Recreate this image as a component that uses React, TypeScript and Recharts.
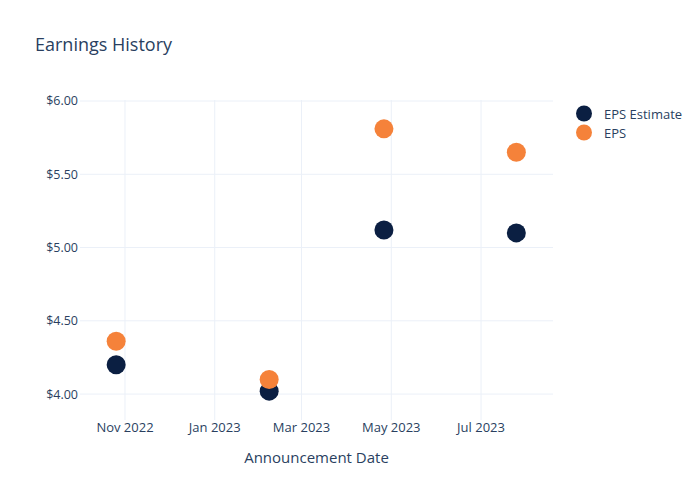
import React from 'react';
import { ScatterChart, Scatter, XAxis, YAxis, ReferenceLine, Legend } from 'recharts';

const dates = ['2022-10-26', '2023-02-07', '2023-04-26', '2023-07-25'];
const epsEstimate = [4.2, 4.02, 5.12, 5.1];
const epsActual = [4.36, 4.1, 5.81, 5.65];
const xTickDates = ['2022-11-01', '2023-01-01', '2023-03-01', '2023-05-01', '2023-07-01'];
const yTicks = [4, 4.5, 5, 5.5, 6];
const seriesNames = ['EPS Estimate', 'EPS'];
const seriesColors = ['#0b1f42', '#f5823a'];

const MONTHS = ['Jan', 'Feb', 'Mar', 'Apr', 'May', 'Jun', 'Jul', 'Aug', 'Sep', 'Oct', 'Nov', 'Dec'];
const toTs = (s: string) => Date.parse(s + 'T00:00:00Z');

const estData = dates.map((d, i) => ({ x: toTs(d), y: epsEstimate[i] }));
const epsData = dates.map((d, i) => ({ x: toTs(d), y: epsActual[i] }));
const xTicks = xTickDates.map(toTs);
const xDomain = [Date.UTC(2022, 9, 1, 10), Date.UTC(2023, 7, 18, 22)];

const FONT = '"Open Sans", verdana, arial, sans-serif';
const TEXT = '#2a3f5f';
const GRID = '#ebf0f8';

const Dot = (color: string) => (props: any) => (
  <circle cx={props.cx} cy={props.cy} r={9.5} fill={color} />
);

const LegendContent = () => (
  <div style={{ fontFamily: FONT, fontSize: 13, color: TEXT }}>
    {seriesNames.map((n, i) => (
      <div key={n} style={{ display: 'flex', alignItems: 'center', height: 19, whiteSpace: 'nowrap' }}>
        <svg width={20} height={19} style={{ flex: 'none' }}>
          <circle cx={9} cy={9.5} r={8} fill={seriesColors[i]} />
        </svg>
        <span style={{ marginLeft: 9 }}>{n}</span>
      </div>
    ))}
  </div>
);

export default function App() {
  return (
    <div style={{ position: 'absolute', left: 0, top: 0, width: 700, height: 500, background: '#fff' }}>
      <div
        style={{
          position: 'absolute',
          left: 35,
          top: 32,
          fontFamily: FONT,
          fontSize: 18,
          color: TEXT,
          lineHeight: '24px',
        }}
      >
        Earnings History
      </div>
      <ScatterChart width={700} height={500} margin={{ top: 100, right: 22, bottom: 0, left: 0 }}>
        <XAxis
          type="number"
          dataKey="x"
          domain={xDomain}
          ticks={xTicks}
          allowDataOverflow
          tickFormatter={(v: number) => {
            const d = new Date(v);
            return `${MONTHS[d.getUTCMonth()]} ${d.getUTCFullYear()}`;
          }}
          height={80}
          axisLine={false}
          tickLine={false}
          tickSize={0}
          tickMargin={3}
          tick={{ fill: TEXT, fontSize: 13, fontFamily: FONT }}
          label={{
            value: 'Announcement Date',
            position: 'insideBottom',
            offset: 37,
            fill: TEXT,
            fontSize: 15,
            fontFamily: FONT,
          }}
        />
        <YAxis
          type="number"
          dataKey="y"
          domain={[3.823, 6.007]}
          ticks={yTicks}
          allowDataOverflow
          width={80}
          axisLine={false}
          tickLine={false}
          tickSize={0}
          tickMargin={2}
          tickFormatter={(v: number) => `$${v.toFixed(2)}`}
          tick={{ fill: TEXT, fontSize: 12.5, fontFamily: FONT }}
        />
        {xTicks.map((t) => (
          <ReferenceLine key={'vx' + t} x={t} stroke={GRID} strokeWidth={1} />
        ))}
        {yTicks.map((t) => (
          <ReferenceLine key={'hy' + t} y={t} stroke={GRID} strokeWidth={1} />
        ))}
        <Legend
          layout="vertical"
          align="right"
          verticalAlign="top"
          content={LegendContent}
          wrapperStyle={{ position: 'absolute', left: 575, top: 104, width: 125 }}
        />
        <Scatter name={seriesNames[0]} data={estData} fill={seriesColors[0]} shape={Dot(seriesColors[0])} isAnimationActive={false} />
        <Scatter name={seriesNames[1]} data={epsData} fill={seriesColors[1]} shape={Dot(seriesColors[1])} isAnimationActive={false} />
      </ScatterChart>
    </div>
  );
}
